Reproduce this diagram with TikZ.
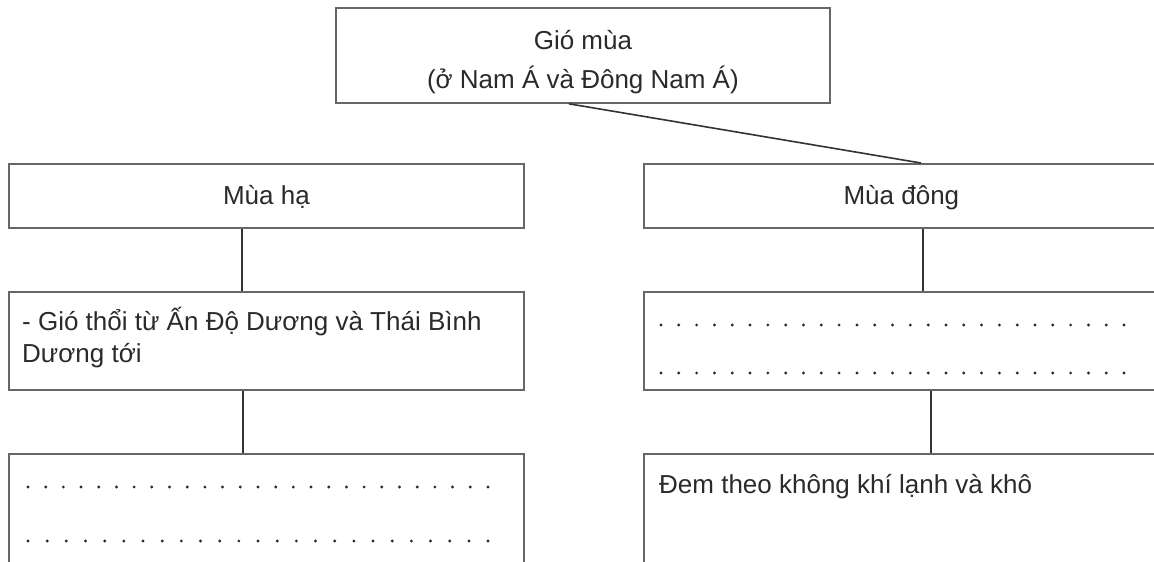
\documentclass[tikz,border=0pt]{standalone}
\usepackage{fontspec}
\setmainfont{Liberation Sans}
\definecolor{boxc}{HTML}{666666}
\definecolor{linec}{HTML}{333333}
\definecolor{txt}{HTML}{2A2A2A}
\begin{document}
\begin{tikzpicture}[x=1pt,y=-1pt,
  box/.style={draw=boxc, line width=1.8pt, rectangle, inner sep=0pt, minimum width=515pt, anchor=north west},
  conn/.style={draw=linec, line width=1.6pt},
  lbl/.style={text=txt, font=\fontsize{26}{32}\selectfont, inner sep=0pt, anchor=base},
  lblw/.style={lbl, anchor=base west},
  dotc/.style={fill=txt}
]
\useasboundingbox (0,0) rectangle (1154,562);
% top
\node[box, minimum width=494pt, minimum height=95pt] (top) at (335,7) {};
\node[lbl] (topA) at ([yshift=-42pt]top.north) {Gió mùa};
\node[lbl] (topB) at ([yshift=-81pt]top.north) {(ở Nam Á và Đông Nam Á)};
% left column
\node[box, minimum height=64pt] (summer) at (8,163) {};
\node[lbl] (summerT) at ([yshift=-41pt]summer.north) {Mùa hạ};
\node[box, minimum height=98pt] (summerA) at (8,291) {};
\node[lblw] (summerA1) at ([xshift=14pt,yshift=-39pt]summerA.north west) {- Gió thổi từ Ấn Độ Dương và Thái Bình};
\node[lblw] (summerA2) at ([xshift=14pt,yshift=-71pt]summerA.north west) {Dương tới};
\node[box, minimum height=125pt] (summerB) at (8,453) {};
\foreach \i in {0,...,26} \fill[dotc] (28+\i*17.69,487) circle (1.6pt);
\foreach \i in {0,...,24} \fill[dotc] (28+\i*19.17,541) circle (1.6pt);
% right column
\node[box, minimum height=64pt] (winter) at (643,163) {};
\node[lbl] (winterT) at ([yshift=-41pt]winter.north) {Mùa đông};
\node[box, minimum height=98pt] (winterA) at (643,291) {};
\foreach \i in {0,...,26} \fill[dotc] (661+\i*17.81,325) circle (1.6pt);
\foreach \i in {0,...,26} \fill[dotc] (661+\i*17.81,373) circle (1.6pt);
\node[box, minimum height=125pt] (winterB) at (643,453) {};
\node[lblw] (winterB1) at ([xshift=16pt,yshift=-40pt]winterB.north west) {Đem theo không khí lạnh và khô};
% connectors
\draw[conn] ([xshift=-14pt]top.south) -- ([xshift=19.5pt]winter.north);
\draw[conn] ([xshift=-24.5pt]summer.south) -- ([xshift=-24.5pt]summerA.north);
\draw[conn] ([xshift=-23.5pt]summerA.south) -- ([xshift=-23.5pt]summerB.north);
\draw[conn] ([xshift=21.5pt]winter.south) -- ([xshift=21.5pt]winterA.north);
\draw[conn] ([xshift=29.5pt]winterA.south) -- ([xshift=29.5pt]winterB.north);
\end{tikzpicture}
\end{document}
